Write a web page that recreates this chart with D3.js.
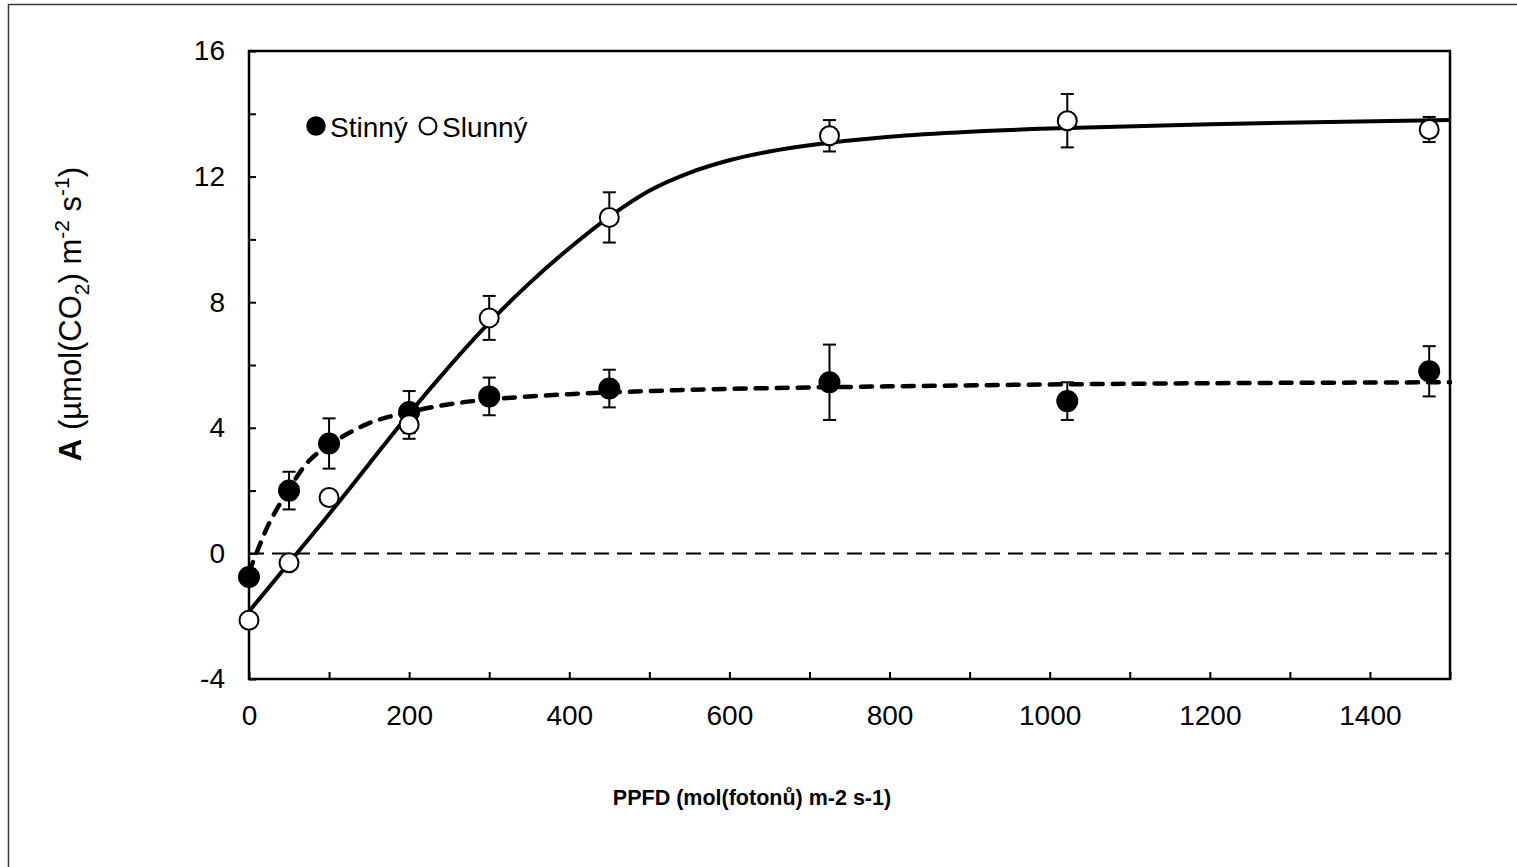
<!DOCTYPE html>
<html lang="en">
<head>
	<meta charset="utf-8">
	<title>PPFD response</title>
	<script src="https://d3js.org/d3.v7.min.js" charset="utf-8"></script>
	<style>
		body { margin: 0; background: #fff; }
		text { font-family: "Liberation Sans", Arial, sans-serif; fill: #000; }
	</style>
</head>
<body>
	<script>
    // measured points (PPFD, A) with error bar half-widths
    var ppfd = [0, 50, 100, 200, 300, 450, 725, 1022, 1474];
    var stinny = [-0.75, 2.0, 3.5, 4.5, 5.0, 5.25, 5.45, 4.85, 5.8];
    var stinnyErr = [0, 0.6, 0.8, 0.67, 0.6, 0.6, 1.2, 0.6, 0.8];
    var slunny = [-2.13, -0.3, 1.78, 4.1, 7.5, 10.7, 13.3, 13.78, 13.5];
    var slunnyErr = [0, 0, 0.2, 0.45, 0.7, 0.8, 0.5, 0.85, 0.4];

    // fitted curves
    var fitSlunnyX = [0, 50, 100, 150, 200, 250, 300, 350, 400, 450, 500, 550, 600, 650, 700, 800, 900, 1000, 1200, 1500];
    var fitSlunnyY = [-1.85, -0.3, 1.25, 2.85, 4.45, 5.95, 7.35, 8.6, 9.72, 10.72, 11.55, 12.12, 12.52, 12.8, 13.0, 13.27, 13.43, 13.53, 13.67, 13.8];
    var fitStinnyX = [0, 10, 25, 50, 75, 100, 150, 200, 250, 300, 400, 500, 600, 800, 1000, 1200, 1500];
    var fitStinnyY = [-0.6, 0.05, 0.95, 2.05, 2.95, 3.45, 4.15, 4.5, 4.75, 4.9, 5.07, 5.17, 5.24, 5.32, 5.38, 5.42, 5.45];

    var xTickLabels = [0, 200, 400, 600, 800, 1000, 1200, 1400];
    var yTickLabels = [-4, 0, 4, 8, 12, 16];
    var seriesNames = ["Stinný", "Slunný"];

    var width = 1517,
        height = 867;

    var x = d3.scaleLinear().domain([0, 1500]).range([249, 1450]);
    var y = d3.scaleLinear().domain([-4, 16]).range([679, 51]);

    var svg = d3.select("body").append("svg")
        .attr("width", width)
        .attr("height", height);

    // outer chart border
    svg.append("path")
        .attr("d", "M8.5," + height + "V4.5H" + width)
        .attr("fill", "none")
        .attr("stroke", "#3a3a3a")
        .attr("stroke-width", 1.5);

    // zero line
    svg.append("line")
        .attr("x1", x(0)).attr("x2", x(1500))
        .attr("y1", y(0)).attr("y2", y(0))
        .attr("stroke", "#000")
        .attr("stroke-width", 2)
        .attr("stroke-dasharray", "15,8");

    // axes: ticks inside, labels every other tick
    var xAxis = d3.axisBottom(x)
        .tickValues(d3.range(0, 1501, 100))
        .tickSizeInner(-7).tickSizeOuter(0)
        .tickPadding(26)
        .tickFormat(function(d) { return xTickLabels.indexOf(d) > -1 ? d : ""; });

    var yAxis = d3.axisLeft(y)
        .tickValues(d3.range(-4, 17, 2))
        .tickSizeInner(-7).tickSizeOuter(0)
        .tickPadding(24)
        .tickFormat(function(d) { return yTickLabels.indexOf(d) > -1 ? d : ""; });

    var gx = svg.append("g")
        .attr("transform", "translate(0," + y(-4) + ")")
        .call(xAxis);
    var gy = svg.append("g")
        .attr("transform", "translate(" + x(0) + ",0)")
        .call(yAxis);

    [gx, gy].forEach(function(g) {
      g.select(".domain").remove();
      g.selectAll(".tick line").attr("stroke", "#000").attr("stroke-width", 2);
      g.selectAll(".tick text")
        .style("font-family", "'Liberation Sans', Arial, sans-serif")
        .style("font-size", "28px")
        .attr("fill", "#000");
    });

    // plot frame
    svg.append("rect")
        .attr("x", x(0)).attr("y", y(16))
        .attr("width", x(1500) - x(0))
        .attr("height", y(-4) - y(16))
        .attr("fill", "none")
        .attr("stroke", "#000")
        .attr("stroke-width", 2.5);

    // fitted curves
    var line = d3.line()
        .x(function(d) { return x(d[0]); })
        .y(function(d) { return y(d[1]); })
        .curve(d3.curveCatmullRom.alpha(0.5));

    svg.append("path")
        .datum(d3.zip(fitSlunnyX, fitSlunnyY))
        .attr("d", line)
        .attr("fill", "none")
        .attr("stroke", "#000")
        .attr("stroke-width", 4);

    svg.append("path")
        .datum(d3.zip(fitStinnyX, fitStinnyY))
        .attr("d", line)
        .attr("fill", "none")
        .attr("stroke", "#000")
        .attr("stroke-width", 4.5)
        .attr("stroke-linecap", "round")
        .attr("stroke-dasharray", "11,10");

    function drawSeries(vals, errs, fill) {
      var data = ppfd.map(function(p, i) { return { x: p, y: vals[i], e: errs[i] }; });
      var bars = svg.append("g").selectAll("g")
          .data(data.filter(function(d) { return d.e > 0; }))
          .enter().append("g")
          .attr("stroke", "#000")
          .attr("stroke-width", 2);
      bars.append("line")
          .attr("x1", function(d) { return x(d.x); })
          .attr("x2", function(d) { return x(d.x); })
          .attr("y1", function(d) { return y(d.y - d.e); })
          .attr("y2", function(d) { return y(d.y + d.e); });
      [-1, 1].forEach(function(s) {
        bars.append("line")
            .attr("x1", function(d) { return x(d.x) - 6.5; })
            .attr("x2", function(d) { return x(d.x) + 6.5; })
            .attr("y1", function(d) { return y(d.y + s * d.e); })
            .attr("y2", function(d) { return y(d.y + s * d.e); });
      });
      svg.append("g").selectAll("circle")
          .data(data)
          .enter().append("circle")
          .attr("cx", function(d) { return x(d.x); })
          .attr("cy", function(d) { return y(d.y); })
          .attr("r", fill === "#000" ? 10 : 9.5)
          .attr("fill", fill)
          .attr("stroke", "#000")
          .attr("stroke-width", 2);
    }

    drawSeries(stinny, stinnyErr, "#000");
    drawSeries(slunny, slunnyErr, "#fff");

    // legend
    var legend = svg.append("g");
    legend.append("circle").attr("cx", 316).attr("cy", 126).attr("r", 9)
        .attr("fill", "#000").attr("stroke", "#000").attr("stroke-width", 1.5);
    legend.append("text").attr("x", 330).attr("y", 137)
        .style("font-size", "28px").text(seriesNames[0]);
    legend.append("circle").attr("cx", 428).attr("cy", 126).attr("r", 8.5)
        .attr("fill", "#fff").attr("stroke", "#000").attr("stroke-width", 2);
    legend.append("text").attr("x", 442).attr("y", 137)
        .style("font-size", "28px").text(seriesNames[1]);

    // axis titles
    var yTitle = svg.append("text")
        .attr("transform", "translate(81,314) rotate(-90)")
        .attr("text-anchor", "middle")
        .style("font-size", "31px");
    yTitle.append("tspan").style("font-weight", "bold").text("A");
    yTitle.append("tspan").text(" (µmol(CO");
    yTitle.append("tspan").attr("dy", 8).style("font-size", "21px").text("2");
    yTitle.append("tspan").attr("dy", -8).text(") m");
    yTitle.append("tspan").attr("dy", -12).style("font-size", "21px").text("-2");
    yTitle.append("tspan").attr("dy", 12).text(" s");
    yTitle.append("tspan").attr("dy", -12).style("font-size", "21px").text("-1");
    yTitle.append("tspan").attr("dy", 12).text(")");

    svg.append("text")
        .attr("x", 752).attr("y", 805)
        .attr("text-anchor", "middle")
        .style("font-size", "21.5px")
        .style("font-weight", "bold")
        .text("PPFD (mol(fotonů) m-2 s-1)");
	</script>
</body>
</html>
